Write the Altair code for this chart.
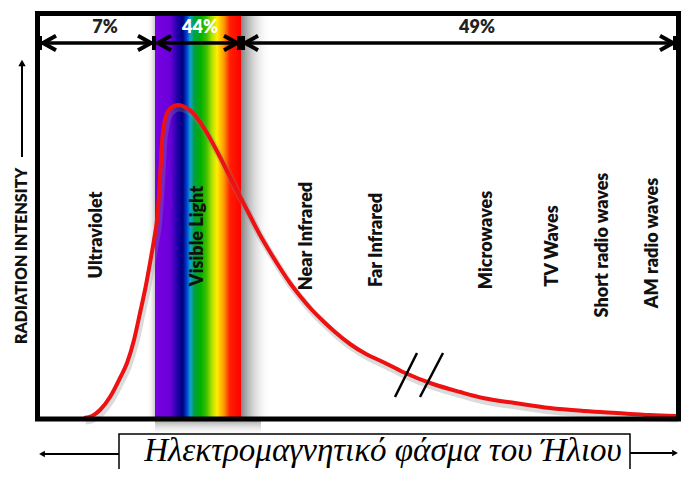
import altair as alt
import pandas as pd

# ---- canvas coordinate system (image pixels) ----
X0, X1 = 8, 681
Y0, Y1 = 8, 469
W, H = X1 - X0, Y1 - Y0

# ---- data ----
curve_x = [84, 92, 100, 110, 120, 127, 134, 140, 146, 150, 154, 157, 159, 160, 161, 162, 164, 167, 172,
           178, 185, 193, 200, 207, 220, 233, 247, 260, 270, 280, 290, 300, 312, 323, 335, 350, 366, 383,
           403, 433, 460, 483, 515, 550, 585, 617, 650, 676]
curve_y = [418, 416, 410, 397, 378, 363, 340, 313, 285, 263, 240, 220, 195, 178, 160, 142, 125, 113, 107,
           105, 107, 113, 122, 133, 157, 183, 210, 235, 252, 268, 283, 296, 310, 321, 332, 344, 354, 362,
           372, 384, 392, 398, 403, 408, 411, 413, 415, 416]

band_names = ["Ultraviolet", "Visible Light", "Near Infrared", "Far Infrared", "Microwaves",
              "TV Waves", "Short radio waves", "AM radio waves"]
band_label_x = [97, 198, 307, 377, 487, 553, 603, 653]
band_label_y = [235, 236, 236, 240, 240, 246, 245, 243]

share_labels = ["7%", "44%", "49%"]
share_start = [40, 155, 242]
share_end = [154, 240, 676]
share_label_x = [105, 200, 477]
share_label_color = ["#222222", "#ffffff", "#222222"]
share_bars = [40, 154, 239, 243, 675]

visible_from, visible_to = 155, 241
rainbow_offsets = [0.0, 0.18, 0.26, 0.32, 0.37, 0.41, 0.46, 0.53, 0.60, 0.66, 0.72, 0.80, 0.87, 1.0]
rainbow_colors = ["#7800e4", "#6a00d8", "#2000a8", "#000080", "#0040d0", "#10a0d0", "#00a040",
                  "#00b000", "#40c000", "#b0e000", "#ffee00", "#ff9900", "#ff2000", "#ff0000"]

break_x = [395, 420]
break_x2 = [417, 443]
break_y, break_y2 = 397, 353

y_title = "RADIATION INTENSITY"
x_title = "Ηλεκτρομαγνητικό φάσμα του Ήλιου"

xs = alt.Scale(domain=[X0, X1], nice=False, zero=False)
ys = alt.Scale(domain=[Y0, Y1], nice=False, zero=False, reverse=True)


def ex(f="x"):
    return alt.X(f"{f}:Q", scale=xs, axis=None)


def ey(f="y"):
    return alt.Y(f"{f}:Q", scale=ys, axis=None)


def rect_df(x, x2, y, y2):
    return pd.DataFrame({"x": [x], "x2": [x2], "y": [y], "y2": [y2]})


# rainbow band
rainbow = alt.Chart(rect_df(visible_from, visible_to, 15, 418)).mark_rect(
    fill=alt.Gradient(gradient="linear", x1=0, x2=1, y1=0, y2=0,
                      stops=[alt.GradientStop(offset=o, color=c) for o, c in zip(rainbow_offsets, rainbow_colors)])
).encode(x=ex(), x2="x2:Q", y=ey(), y2="y2:Q")

shadow_r = alt.Chart(rect_df(visible_to, visible_to + 30, 15, 418)).mark_rect(
    fill=alt.Gradient(gradient="linear", x1=0, x2=1, y1=0, y2=0,
                      stops=[alt.GradientStop(offset=0, color="rgba(110,110,110,0.85)"),
                             alt.GradientStop(offset=1, color="rgba(255,255,255,0)")])
).encode(x=ex(), x2="x2:Q", y=ey(), y2="y2:Q")

shadow_l = alt.Chart(rect_df(visible_from - 8, visible_from, 15, 418)).mark_rect(
    fill=alt.Gradient(gradient="linear", x1=0, x2=1, y1=0, y2=0,
                      stops=[alt.GradientStop(offset=0, color="rgba(255,255,255,0)"),
                             alt.GradientStop(offset=1, color="rgba(150,150,150,0.5)")])
).encode(x=ex(), x2="x2:Q", y=ey(), y2="y2:Q")

shadow_b = alt.Chart(rect_df(visible_from, visible_to + 20, 421, 436)).mark_rect(
    fill=alt.Gradient(gradient="linear", x1=0, x2=0, y1=0, y2=1,
                      stops=[alt.GradientStop(offset=0, color="rgba(120,120,120,0.6)"),
                             alt.GradientStop(offset=1, color="rgba(255,255,255,0)")])
).encode(x=ex(), x2="x2:Q", y=ey(), y2="y2:Q")

# curve
curve_df = pd.DataFrame({"x": curve_x, "y": curve_y, "i": list(range(len(curve_x)))})
curve_df["xs"] = curve_df["x"] + 1.5
curve_df["ys"] = curve_df["y"] + 3
curve_shadow = alt.Chart(curve_df).mark_line(color="#888888", opacity=0.3, strokeWidth=7,
                                             interpolate="monotone").encode(
    x=ex("xs"), y=ey("ys"), order="i:Q")
curve = alt.Chart(curve_df).mark_line(color="#ee1111", strokeWidth=4, interpolate="monotone").encode(
    x=ex(), y=ey(), order="i:Q")

# break marks
brk_df = pd.DataFrame({"x": break_x, "x2": break_x2, "y": [break_y] * 2, "y2": [break_y2] * 2})
breaks = alt.Chart(brk_df).mark_rule(color="black", strokeWidth=2.5).encode(
    x=ex(), x2="x2:Q", y=ey(), y2="y2:Q")

# frame
frame = alt.Chart(rect_df(37.5, 678.5, 13.5, 419)).mark_rect(
    fillOpacity=0, stroke="black", strokeWidth=5).encode(x=ex(), x2="x2:Q", y=ey(), y2="y2:Q")

# share arrows
sh_df = pd.DataFrame({"label": share_labels, "x": [s + 2 for s in share_start],
                      "x2": [e - 2 for e in share_end], "lx": share_label_x,
                      "col": share_label_color, "y": [43] * 3, "ly": [28] * 3,
                      "tl": [s + 3 for s in share_start], "tr": [e - 3 for e in share_end]})
sh_lines = alt.Chart(sh_df).mark_rule(color="black", strokeWidth=3.5).encode(
    x=ex(), x2="x2:Q", y=ey())
sh_left = alt.Chart(sh_df).mark_point(shape="M1,-0.55L0,0L1,0.55", size=676, filled=False,
                                      color="black", strokeWidth=4, opacity=1).encode(
    x=ex("tl"), y=ey())
sh_right = alt.Chart(sh_df).mark_point(shape="M-1,-0.55L0,0L-1,0.55", size=676, filled=False,
                                       color="black", strokeWidth=4, opacity=1).encode(
    x=ex("tr"), y=ey())
bars_df = pd.DataFrame({"x": share_bars, "y": [36] * len(share_bars), "y2": [50] * len(share_bars)})
sh_bars = alt.Chart(bars_df).mark_rule(color="black", strokeWidth=4).encode(
    x=ex(), y=ey(), y2="y2:Q")
sh_text = alt.Chart(sh_df).mark_text(font="Lato", fontWeight=800, fontSize=18,
                                     baseline="middle", align="center").encode(
    x=ex("lx"), y=ey("ly"), text="label:N", color=alt.Color("col:N", scale=None))

# band labels
lab_df = pd.DataFrame({"name": band_names, "x": band_label_x, "y": band_label_y})
labels = alt.Chart(lab_df).mark_text(font="Lato", fontWeight=800, fontSize=18, angle=270,
                                     color="#111111", align="center", baseline="middle").encode(
    x=ex(), y=ey(), text="name:N")

# y title with arrow
yt_df = pd.DataFrame({"t": [y_title], "x": [22], "y": [256], "ay": [157], "ay2": [66], "hy": [63]})
ytitle = alt.Chart(yt_df).mark_text(font="Lato", fontWeight=800, fontSize=16, angle=270,
                                    color="#111111", align="center", baseline="middle").encode(
    x=ex(), y=ey(), text="t:N")
yarrow = alt.Chart(yt_df).mark_rule(color="black", strokeWidth=2).encode(
    x=ex("x"), y=ey("ay"), y2="ay2:Q")
yhead = alt.Chart(yt_df).mark_point(shape="triangle-up", size=55, filled=True, color="black",
                                    opacity=1).encode(x=ex("x"), y=ey("hy"))

# bottom caption with arrows
bx_df = pd.DataFrame({"t": [x_title], "x": [119], "x2": [630], "y": [434], "y2": [490],
                      "tx": [383], "ty": [461]})
box = alt.Chart(bx_df).mark_rect(fill="white", stroke="black", strokeWidth=1.5).encode(
    x=ex(), x2="x2:Q", y=ey(), y2="y2:Q")
btext = alt.Chart(bx_df).mark_text(font="Liberation Serif", fontStyle="italic", fontSize=33,
                                   color="black", align="center", baseline="alphabetic").encode(
    x=ex("tx"), y=ey("ty"), text="t:N")
ba_df = pd.DataFrame({"x": [44, 630], "x2": [119, 672], "y": [454, 453]})
barrows = alt.Chart(ba_df).mark_rule(color="black", strokeWidth=1.8).encode(
    x=ex(), x2="x2:Q", y=ey())
bh_df = pd.DataFrame({"x": [42, 675], "y": [454, 453], "s": ["triangle-left", "triangle-right"]})
bheads = alt.Chart(bh_df).mark_point(size=45, filled=True, color="black", opacity=1).encode(
    x=ex(), y=ey(), shape=alt.Shape("s:N", scale=None))

chart = alt.layer(
    shadow_l, rainbow, shadow_r, shadow_b, curve_shadow, curve, breaks, frame,
    sh_lines, sh_bars, sh_left, sh_right, sh_text, labels,
    ytitle, yarrow, yhead, barrows, bheads, box, btext
).properties(
    width=W, height=H, padding=0, background="white",
    autosize=alt.AutoSizeParams(type="none")
).configure_view(stroke=None)

chart.save("out.html", embed_options={"renderer": "svg", "actions": False})
